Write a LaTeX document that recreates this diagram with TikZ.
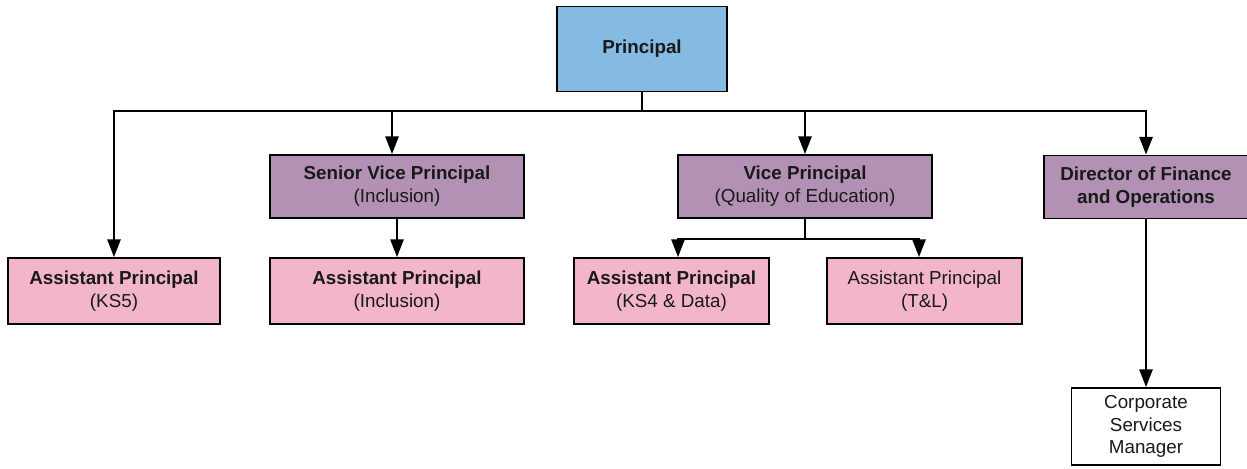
\documentclass[tikz,border=0pt]{standalone}
\usepackage{fontspec}
\setmainfont{Liberation Sans}
\usepackage{tikz}
\usetikzlibrary{arrows.meta, positioning}

\definecolor{headblue}{RGB}{133,186,226}
\definecolor{vpurple}{RGB}{179,145,180}
\definecolor{appink}{RGB}{243,182,200}

\begin{document}
\begin{tikzpicture}[x=0.02cm,y=-0.02cm,>={Triangle[width=7.5pt,length=10pt]},line width=1.1pt,
  box/.style={rectangle,draw=black,line width=1.1pt,align=center,inner sep=0pt,text=black!90,font=\fontsize{10.7}{13}\selectfont},
  head node/.style={box,fill=headblue,minimum width=3.4cm,minimum height=1.7cm,font=\fontsize{10.7}{13}\selectfont\bfseries},
  vp node/.style={box,fill=vpurple,minimum height=1.26cm},
  ap node/.style={box,fill=appink,minimum height=1.32cm}]
\tikzstyle{staff node} = [box, fill=white, minimum width=2.98cm, minimum height=1.54cm]

\useasboundingbox (0,0) rectangle (1247,468);

% top
\node[head node] (prin) at (642,49) {Principal};

% second row
\node[vp node,minimum width=5.08cm] (svp) at (397,186.5) {\textbf{Senior Vice Principal}\\(Inclusion)};
\node[vp node,minimum width=5.08cm] (vp) at (805,186.5) {\textbf{Vice Principal}\\(Quality of Education)};
\node[vp node,minimum width=4.08cm] (dfo) at (1146,187) {\textbf{Director of Finance}\\\textbf{and Operations}};

% assistant principals
\node[ap node,minimum width=4.24cm] (apkss) at (114,291) {\textbf{Assistant Principal}\\(KS5)};
\node[ap node,minimum width=5.08cm] (apinc) at (397,291) {\textbf{Assistant Principal}\\(Inclusion)};
\node[ap node,minimum width=3.9cm] (apksf) at (671.5,291) {\textbf{Assistant Principal}\\(KS4 \& Data)};
\node[ap node,minimum width=3.9cm] (aptl) at (924.5,291) {Assistant Principal\\(T\&L)};

% support staff
\node[staff node] (csm) at (1146,426.5) {Corporate\\Services\\Manager};

% connectors
\coordinate (bus) at (642,111);
\coordinate (vpjoin) at (805,239);
\draw (prin.south) -- (bus);
\draw[->] (bus) -| (apkss.north);
\draw[->] (bus) -| ([xshift=-0.1cm]svp.north);
\draw[->] (bus) -| (vp.north);
\draw[->] (bus) -| (dfo.north);
\draw[->] (svp.south) -- (apinc.north);
\draw (vp.south) -- (vpjoin);
\draw[->] (vpjoin) -| ([xshift=0.13cm]apksf.north);
\draw[->] (vpjoin) -| ([xshift=-0.11cm]aptl.north);
\draw[->] (dfo.south) -- (csm.north);

\end{tikzpicture}
\end{document}
